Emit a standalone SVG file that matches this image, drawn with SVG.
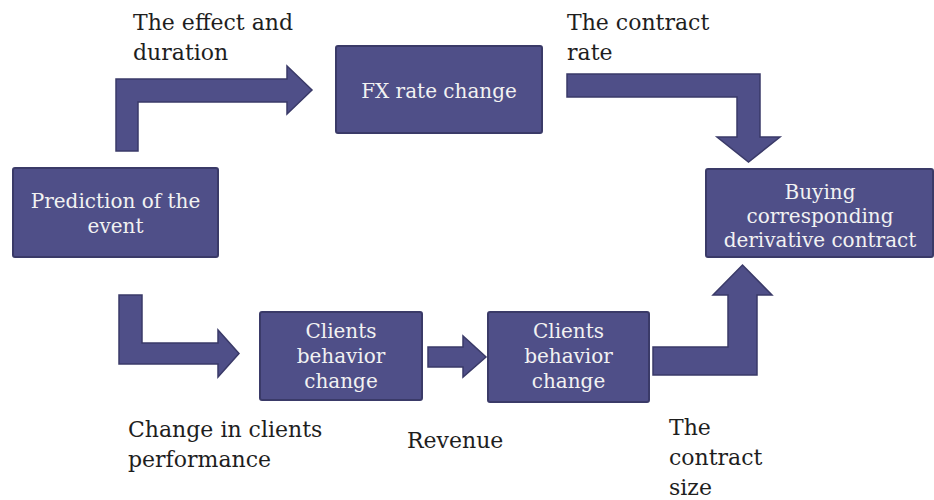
<svg xmlns="http://www.w3.org/2000/svg" width="934" height="500" viewBox="0 0 934 500">
<style>
.box{fill:#4f4f88;stroke:#3a3a68;stroke-width:2}
.arr{fill:#4f4f88;stroke:#3a3a68;stroke-width:1.5}
.bt{font-family:"DejaVu Serif","Liberation Serif",serif;font-size:20px;fill:#f2f2f2;text-anchor:middle}
.lb{font-family:"DejaVu Serif","Liberation Serif",serif;font-size:22px;fill:#1e1e1e}
</style>
<rect width="934" height="500" fill="#ffffff"/>
<g id="connectors">
<polygon class="arr" points="116,151 116,79 287,79 287,66 312,90 287,114 287,102 138,102 138,151"/>
<polygon class="arr" points="567,74 760,74 760,137 780,137 748.5,162 717,137 737,137 737,97 567,97"/>
<polygon class="arr" points="119,295 142,295 142,343 218,343 218,330 239,353.5 218,377 218,364 119,364"/>
<polygon class="arr" points="428,347 463,347 463,336 486,357 463,377 463,367 428,367"/>
<polygon class="arr" points="653,347 728,347 728,295 713,295 742.5,265 772,295 757,295 757,375 653,375"/>
</g>
<g id="prediction">
<rect class="box" x="13" y="168" width="205" height="89" rx="2"/>
<text class="bt" x="115.5" y="208">Prediction of the</text>
<text class="bt" x="115.5" y="233">event</text>
</g>
<g id="fx">
<rect class="box" x="336" y="46" width="206" height="87" rx="2"/>
<text class="bt" x="439" y="98">FX rate change</text>
</g>
<g id="buying">
<rect class="box" x="706" y="169" width="227" height="88" rx="2"/>
<text class="bt" x="820" y="199">Buying</text>
<text class="bt" x="820" y="223">corresponding</text>
<text class="bt" x="820" y="247">derivative contract</text>
</g>
<g id="clients1">
<rect class="box" x="260" y="312" width="162" height="88" rx="2"/>
<text class="bt" x="341" y="338">Clients</text>
<text class="bt" x="341" y="363">behavior</text>
<text class="bt" x="341" y="388">change</text>
</g>
<g id="clients2">
<rect class="box" x="488" y="312" width="161" height="90" rx="2"/>
<text class="bt" x="568.5" y="338">Clients</text>
<text class="bt" x="568.5" y="363">behavior</text>
<text class="bt" x="568.5" y="388">change</text>
</g>
<g id="labels">
<text class="lb" x="133" y="30">The effect and</text>
<text class="lb" x="133" y="60">duration</text>
<text class="lb" x="567" y="30">The contract</text>
<text class="lb" x="567" y="60">rate</text>
<text class="lb" x="128" y="437">Change in clients</text>
<text class="lb" x="128" y="467">performance</text>
<text class="lb" x="407" y="448">Revenue</text>
<text class="lb" x="669" y="435">The</text>
<text class="lb" x="669" y="465">contract</text>
<text class="lb" x="669" y="495">size</text>
</g>
</svg>
